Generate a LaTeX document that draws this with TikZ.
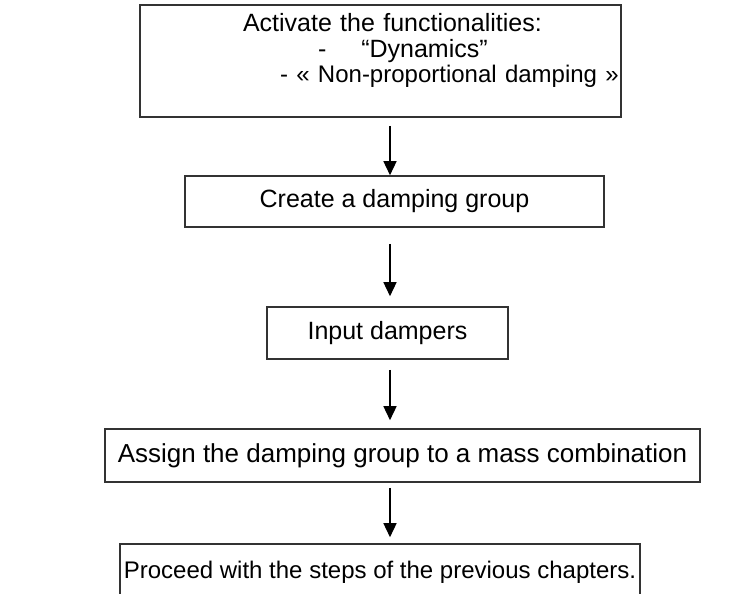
\documentclass[tikz,border=0pt]{standalone}
\usepackage{fontspec}
\setmainfont{Liberation Sans}
\usetikzlibrary{arrows.meta, positioning}

\begin{document}
\begin{tikzpicture}[x=1pt, y=-1pt,
    every node/.style={font=\fontsize{25}{25.5}\selectfont},
    stepbox/.style={rectangle, draw=black!80, line width=1.6pt,
                    inner sep=0pt, align=center},
    arrow/.style={-{Triangle[length=14pt,width=13pt]}, line width=1.5pt, draw=black}
  ]
    \useasboundingbox (0,0) rectangle (756,594);

    \node[stepbox, minimum width=481pt, minimum height=112pt,
          text width=481pt, align=left] (act) at (380.5,61)
      {\hspace*{103pt}\mbox{Activate the functionalities:}\\
       \hspace*{178pt}\mbox{-\hspace{35pt}“Dynamics”}\\
       \hspace*{140pt}\mbox{\fontsize{24}{25.5}\selectfont - « Non-proportional damping »}\\[0pt]
       \mbox{}};
    \node[stepbox, minimum width=419pt, minimum height=51pt] (grp) at (394.5,201.5)
      {Create a damping group};
    \node[stepbox, minimum width=241pt, minimum height=52pt] (inp) at (387.5,333)
      {Input dampers};
    \node[stepbox, minimum width=595pt, minimum height=53pt,
          font=\fontsize{26}{28}\selectfont] (asg) at (402.5,455.5)
      {Assign the damping group to a mass combination};
    \node[stepbox, minimum width=520pt, minimum height=56pt,
          font=\fontsize{24}{28}\selectfont] (proc) at (380,572)
      {Proceed with the steps of the previous chapters.};

    \coordinate (ax) at (390,0);
    \draw[arrow, shorten <=8pt] (act.south -| ax) -- (grp.north -| ax);
    \draw[arrow, shorten <=16pt, shorten >=10pt] (grp.south -| ax) -- (inp.north -| ax);
    \draw[arrow, shorten <=10pt, shorten >=8pt] (inp.south -| ax) -- (asg.north -| ax);
    \draw[arrow, shorten <=5pt, shorten >=6pt] (asg.south -| ax) -- (proc.north -| ax);
  \end{tikzpicture}
\end{document}
